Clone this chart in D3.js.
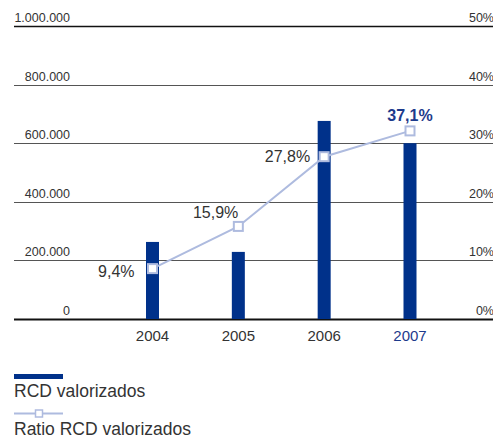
<!DOCTYPE html>
<html><head><meta charset="utf-8">
<script src="https://cdn.jsdelivr.net/npm/d3@7"></script>
<style>
html,body{margin:0;padding:0;background:#fff;}
svg{display:block;font-family:"Liberation Sans",Arial,Helvetica,sans-serif;}
</style></head>
<body>
<svg id="chart" width="493" height="440"></svg>
<script>
// ---- data ----
const years = ["2004", "2005", "2006", "2007"];
const rcdValorizados = [263000, 229000, 676000, 600000];
const ratioPlotted = [8.6, 15.8, 27.7, 32.1];
const ratioLabels = ["9,4%", "15,9%", "27,8%", "37,1%"];
const leftTicks = [0, 200000, 400000, 600000, 800000, 1000000];
const rightTicks = [0, 10, 20, 30, 40, 50];
const legendLabels = ["RCD valorizados", "Ratio RCD valorizados"];

// ---- style / layout ----
const navy = "#00318a";
const navyText = "#1d3a8c";
const lineBlue = "#aebbdf";
const textCol = "#333";
const W = 493, plotTop = 26, plotBottom = 319, gridLeft = 14;
const labelOffsets = [[-18, 8, "end"], [0, -8, "end"], [-14, 5, "end"], [0, -10, "middle"]];

const svg = d3.select("#chart");
const loc = d3.formatLocale({decimal: ",", thousands: ".", grouping: [3], currency: ["", ""]});
const fmt = loc.format(",d");

const x = d3.scalePoint().domain(years).range([152.5, 410]);
const yL = d3.scaleLinear().domain([0, 1000000]).range([plotBottom, plotTop]);
const yR = d3.scaleLinear().domain([0, 50]).range([plotBottom, plotTop]);

// gridlines
svg.append("g").selectAll("line").data(leftTicks).join("line")
  .attr("x1", gridLeft).attr("x2", W)
  .attr("y1", d => Math.round(yL(d)) + 0.5).attr("y2", d => Math.round(yL(d)) + 0.5)
  .attr("stroke", (d, i) => (i === 0 || i === leftTicks.length - 1) ? "#111" : "#555")
  .attr("stroke-width", (d, i) => (i === 0) ? 1.8 : (i === leftTicks.length - 1 ? 1.3 : 1));

// left labels
svg.append("g").selectAll("text").data(leftTicks).join("text")
  .attr("x", 70).attr("y", d => yL(d) - 4)
  .attr("text-anchor", "end").attr("font-size", 12.5).attr("fill", textCol)
  .text(d => fmt(d));

// right labels
svg.append("g").selectAll("text").data(rightTicks).join("text")
  .attr("x", 494).attr("y", d => yR(d) - 4)
  .attr("text-anchor", "end").attr("font-size", 12.5).attr("fill", textCol)
  .text(d => d + "%");

// bars
const bw = 13;
svg.append("g").selectAll("rect").data(rcdValorizados).join("rect")
  .attr("x", (d, i) => x(years[i]) - bw / 2)
  .attr("width", bw)
  .attr("y", d => yL(d))
  .attr("height", d => yL(0) - yL(d))
  .attr("fill", navy);

// x labels
svg.append("g").selectAll("text").data(years).join("text")
  .attr("x", d => x(d)).attr("y", 341)
  .attr("text-anchor", "middle").attr("font-size", 15)
  .attr("fill", (d, i) => i === years.length - 1 ? navyText : textCol)
  .text(d => d);

// line
const line = d3.line().x((d, i) => x(years[i])).y(d => yR(d));
svg.append("path").datum(ratioPlotted)
  .attr("d", line).attr("fill", "none")
  .attr("stroke", lineBlue).attr("stroke-width", 2);

const ms = 9;
svg.append("g").selectAll("rect").data(ratioPlotted).join("rect")
  .attr("x", (d, i) => x(years[i]) - ms / 2)
  .attr("y", d => yR(d) - ms / 2)
  .attr("width", ms).attr("height", ms)
  .attr("fill", "#fff").attr("stroke", lineBlue).attr("stroke-width", 2);

// value labels
svg.append("g").selectAll("text").data(ratioPlotted).join("text")
  .attr("x", (d, i) => x(years[i]) + labelOffsets[i][0])
  .attr("y", (d, i) => yR(d) + labelOffsets[i][1])
  .attr("text-anchor", (d, i) => labelOffsets[i][2])
  .attr("font-size", 16)
  .attr("font-weight", (d, i) => i === years.length - 1 ? "bold" : "normal")
  .attr("fill", (d, i) => i === years.length - 1 ? navyText : textCol)
  .text((d, i) => ratioLabels[i]);

// legend
const lg = svg.append("g");
lg.append("rect").attr("x", 14).attr("y", 374).attr("width", 49).attr("height", 5).attr("fill", navy);
lg.append("text").attr("x", 14).attr("y", 397).attr("font-size", 17.5).attr("fill", textCol).text(legendLabels[0]);
lg.append("line").attr("x1", 14).attr("x2", 63).attr("y1", 413.5).attr("y2", 413.5)
  .attr("stroke", lineBlue).attr("stroke-width", 2);
lg.append("rect").attr("x", 35.5).attr("y", 410).attr("width", 7).attr("height", 7)
  .attr("fill", "#fff").attr("stroke", lineBlue).attr("stroke-width", 1.5);
lg.append("text").attr("x", 14).attr("y", 435).attr("font-size", 17.5).attr("fill", textCol).text(legendLabels[1]);
</script>
</body></html>
